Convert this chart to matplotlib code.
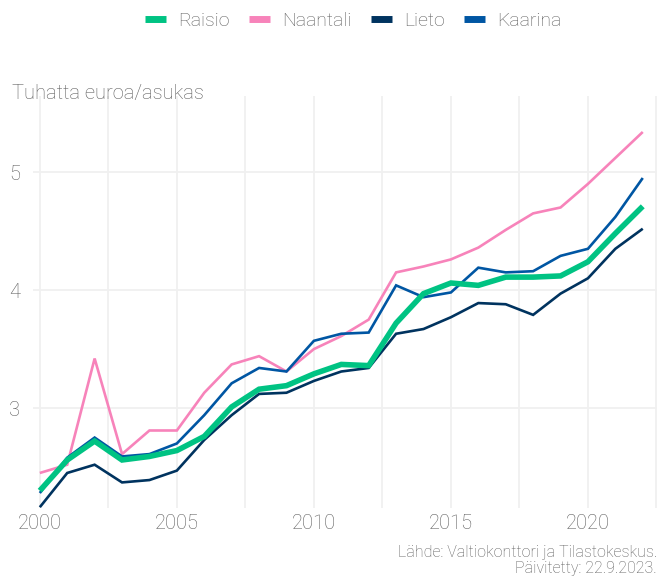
import matplotlib
matplotlib.use("Agg")
import matplotlib.pyplot as plt
from matplotlib.ticker import MultipleLocator

years = list(range(2000, 2023))
raisio = [2.30, 2.56, 2.72, 2.56, 2.59, 2.64, 2.76, 3.01, 3.16, 3.19, 3.29, 3.37, 3.36,
          3.72, 3.97, 4.06, 4.04, 4.11, 4.11, 4.12, 4.24, 4.48, 4.71]
naantali = [2.45, 2.52, 3.42, 2.61, 2.81, 2.81, 3.13, 3.37, 3.44, 3.31, 3.50, 3.61, 3.75,
            4.15, 4.20, 4.26, 4.36, 4.51, 4.65, 4.70, 4.90, 5.12, 5.34]
lieto = [2.16, 2.45, 2.52, 2.37, 2.39, 2.47, 2.73, 2.94, 3.12, 3.13, 3.23, 3.31, 3.34,
         3.63, 3.67, 3.77, 3.89, 3.88, 3.79, 3.97, 4.10, 4.35, 4.52]
kaarina = [2.28, 2.58, 2.75, 2.59, 2.61, 2.70, 2.94, 3.21, 3.34, 3.31, 3.57, 3.63, 3.64,
           4.04, 3.94, 3.98, 4.19, 4.15, 4.16, 4.29, 4.35, 4.62, 4.95]

names = ["Raisio", "Naantali", "Lieto", "Kaarina"]
colors = ["#00C383", "#F783BA", "#00335F", "#0056A3"]
txt = '#5c5c5c'

plt.rcParams['font.family'] = ['Roboto', 'DejaVu Sans']
plt.rcParams['font.weight'] = 'light'

fig = plt.figure(figsize=(6.66, 5.79), dpi=100)
ax = fig.add_axes([0.0495, 0.1226, 0.937, 0.7114])

series = [raisio, naantali, lieto, kaarina]
widths = [4.0, 1.9, 1.9, 1.9]
zorders = [4, 2, 2, 2]
for name, vals, c, w, z in zip(names, series, colors, widths, zorders):
    ax.plot(years, vals, color=c, lw=w, label=name, zorder=z,
            solid_joinstyle='miter', solid_capstyle='butt')

ax.set_xlim(1999.75, 2022.52)
ax.set_ylim(2.153, 5.644)
ax.xaxis.set_major_locator(MultipleLocator(5))
ax.xaxis.set_minor_locator(MultipleLocator(2.5))
ax.yaxis.set_major_locator(MultipleLocator(1))
ax.grid(which='major', color='#f0f0f0', lw=1.3)
ax.grid(which='minor', axis='x', color='#f0f0f0', lw=1.3)
ax.set_axisbelow(True)
for s in ax.spines.values():
    s.set_visible(False)
ax.tick_params(which='both', length=0)
ax.tick_params(axis='x', labelsize=14.5, labelcolor=txt, pad=4)
ax.tick_params(axis='y', labelsize=14.5, labelcolor=txt, pad=9)

fig.text(12 / 666, 1 - 93 / 579, "Tuhatta euroa/asukas", fontsize=14.5,
         color=txt, va='center', ha='left')

leg_handles = [plt.Line2D([0], [0], color=c, lw=5, solid_capstyle='butt') for c in colors]
fig.legend(leg_handles, names, loc='upper center', bbox_to_anchor=(0.53, 1.01),
           ncol=4, frameon=False, fontsize=14, handlelength=1.1, handletextpad=0.6,
           columnspacing=1.0, labelcolor=txt)

fig.text(657 / 666, 1 - 552 / 579, "Lähde: Valtiokonttori ja Tilastokeskus.",
         fontsize=11.5, color=txt, ha='right', va='center')
fig.text(657 / 666, 1 - 569 / 579, "Päivitetty: 22.9.2023.",
         fontsize=11.5, color=txt, ha='right', va='center')

fig.savefig("out.png", dpi=100)
